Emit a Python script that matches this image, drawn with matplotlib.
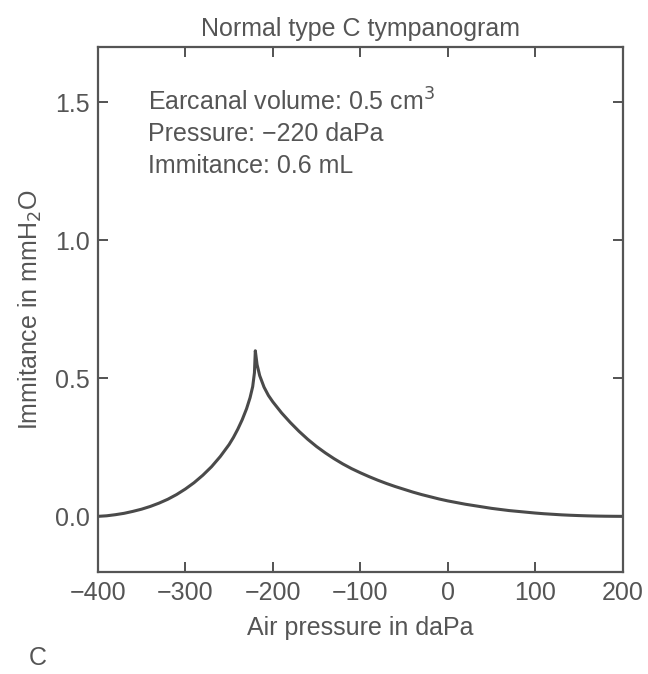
import numpy as np
import matplotlib.pyplot as plt

plt.rcParams['font.family'] = ['Liberation Sans', 'DejaVu Sans']

# pressure (daPa) and immittance
left_pressure = [-400, -390, -380, -370, -360, -350, -340, -330, -320, -310,
                 -300, -290, -280, -270, -260, -250, -245, -240, -235, -230,
                 -226, -223, -221, -220]
left_immit = [0.0, 0.002, 0.006, 0.011, 0.018, 0.026, 0.036, 0.048, 0.062,
              0.079, 0.099, 0.122, 0.149, 0.18, 0.217, 0.26, 0.286, 0.316,
              0.35, 0.39, 0.43, 0.47, 0.52, 0.60]
right_pressure = [-220, -218, -215, -210, -205, -200, -190, -180, -170, -160,
                  -150, -140, -130, -120, -110, -100, -90, -80, -70, -60,
                  -50, -40, -30, -20, -10, 0, 10, 20, 30, 40, 50, 60, 70, 80,
                  90, 100, 110, 120, 130, 140, 150, 160, 170, 180, 190, 200]
right_immit = [0.60, 0.55, 0.51, 0.468, 0.438, 0.415, 0.375, 0.34, 0.308,
               0.279, 0.253, 0.23, 0.209, 0.19, 0.173, 0.158, 0.144, 0.131,
               0.119, 0.108, 0.098, 0.088, 0.079, 0.071, 0.063, 0.056, 0.05,
               0.044, 0.039, 0.034, 0.029, 0.025, 0.021, 0.018, 0.015, 0.012,
               0.0095, 0.0075, 0.0055, 0.004, 0.0028, 0.0018, 0.001, 0.0005,
               0.0002, 0.0]

x_ticks = [-400, -300, -200, -100, 0, 100, 200]
y_ticks = [0.0, 0.5, 1.0, 1.5]
info = ['Earcanal volume: 0.5 cm$^3$', 'Pressure: \u2212220 daPa', 'Immitance: 0.6 mL']

grey = '#555555'
fs = 18

fig = plt.figure(figsize=(6.48, 6.74), dpi=100)
ax = fig.add_axes([0.151, 0.152, 0.810, 0.778])

x = left_pressure + right_pressure[1:]
y = left_immit + right_immit[1:]
ax.plot(x, y, color='#4a4a4a', lw=2.2, solid_joinstyle='round')

ax.set_xlim(-400, 200)
ax.set_ylim(-0.2, 1.7)
ax.set_xticks(x_ticks)
ax.set_yticks(y_ticks)
ax.yaxis.set_major_formatter(plt.FormatStrFormatter('%.1f'))
ax.tick_params(direction='in', top=True, right=True, length=7, width=1.3,
               colors='#444444', labelcolor=grey, labelsize=fs)
ax.tick_params(axis='x', pad=7)
ax.tick_params(axis='y', pad=6)
for s in ax.spines.values():
    s.set_linewidth(1.6)
    s.set_color('#555555')

ax.set_title('Normal type C tympanogram', fontsize=fs, color=grey, pad=8)
ax.set_xlabel('Air pressure in daPa', fontsize=fs, color=grey, labelpad=8)
ax.set_ylabel('Immitance in mmH$_2$O', fontsize=fs, color=grey, labelpad=8)

for i, line in enumerate(info):
    ax.text(-343, 1.5 - i * 0.116, line, fontsize=fs, color=grey, va='center')

fig.text(0.045, 0.013, 'C', fontsize=fs, color=grey)

fig.savefig('out.png', dpi=100)
